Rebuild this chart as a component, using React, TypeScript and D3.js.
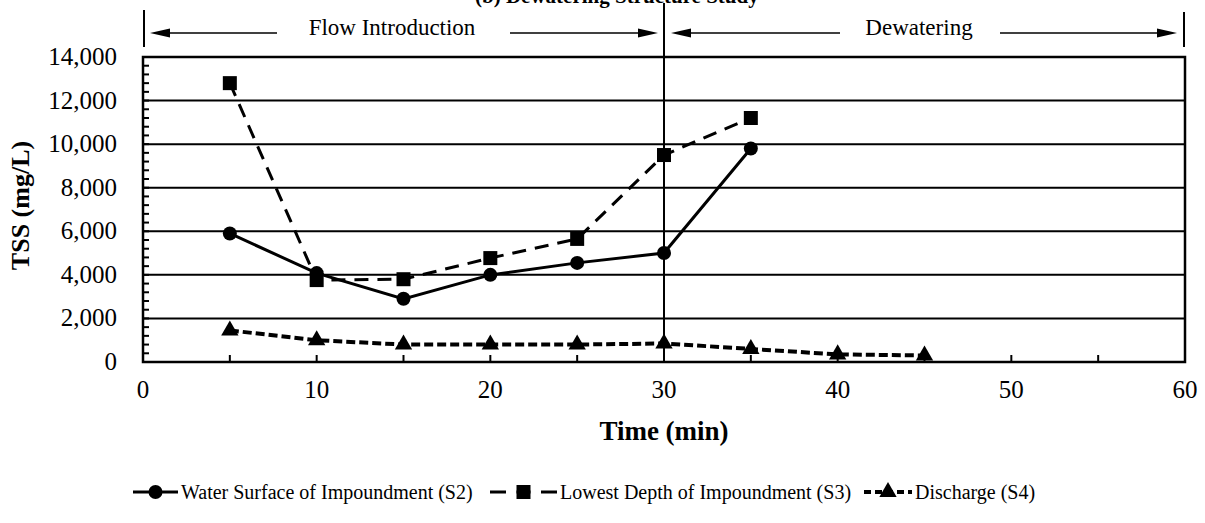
import React from 'react';
import * as d3 from 'd3';

const times = [5, 10, 15, 20, 25, 30, 35, 40, 45];
const s2Values = [5900, 4080, 2900, 4000, 4550, 5000, 9800];
const s3Values = [12800, 3760, 3800, 4770, 5650, 9500, 11200];
const s4Values = [1450, 1000, 800, 800, 800, 850, 600, 350, 300];
const yTickValues = [0, 2000, 4000, 6000, 8000, 10000, 12000, 14000];
const xTickValues = [0, 10, 20, 30, 40, 50, 60];
const seriesNames = [
  'Water Surface of Impoundment (S2)',
  'Lowest Depth of Impoundment (S3)',
  'Discharge (S4)',
];
const phaseLabels = ['Flow Introduction', 'Dewatering'];
const phaseBounds = [0, 30, 60];
const titleText = '(b) Dewatering Structure Study';
const xTitle = 'Time (min)';
const yTitle = 'TSS (mg/L)';

const W = 1205;
const H = 523;
const M = { left: 143, right: 1185, top: 57, bottom: 362 };
const FONT = "'Liberation Serif', 'Times New Roman', serif";

function Marker({ kind, x, y }: { kind: string; x: number; y: number }) {
  if (kind === 'circle') return <circle cx={x} cy={y} r={7} fill="#000" />;
  if (kind === 'square') return <rect x={x - 7} y={y - 7} width={14} height={14} fill="#000" />;
  const p = d3.symbol().type(d3.symbolTriangle).size(130)();
  return <path d={p || ''} transform={`translate(${x},${y})`} fill="#000" />;
}

export default function App() {
  const x = d3.scaleLinear().domain([0, 60]).range([M.left, M.right]);
  const y = d3.scaleLinear().domain([0, 14000]).range([M.bottom, M.top]);
  const line = d3
    .line<[number, number]>()
    .x((d) => x(d[0]))
    .y((d) => y(d[1]));

  const series = [
    { vals: s2Values, kind: 'circle', dash: undefined as string | undefined, sw: 3 },
    { vals: s3Values, kind: 'square', dash: '14,9', sw: 3 },
    { vals: s4Values, kind: 'triangle', dash: '9,4', sw: 4 },
  ];

  const yMinor = d3.range(0, 14001, 400);
  const xMinor = d3.range(5, 60, 5);

  const arrowY = 33;
  const head = (tipX: number, dir: number) =>
    `M${tipX},${arrowY} L${tipX - dir * 20},${arrowY - 4.5} L${tipX - dir * 20},${arrowY + 4.5} Z`;

  const phaseArrows = [
    { label: phaseLabels[0], lTip: x(phaseBounds[0]) + 7, lTail: 277, rTail: 510, rTip: x(phaseBounds[1]) - 6, cx: 392 },
    { label: phaseLabels[1], lTip: x(phaseBounds[1]) + 7, lTail: 840, rTail: 1000, rTip: x(phaseBounds[2]) - 8, cx: 919 },
  ];

  const legendItems = [
    { lx: 133, tx: 181 },
    { lx: 490, tx: 560 },
    { lx: 864, tx: 915 },
  ];

  return (
    <svg
      width={W}
      height={H}
      style={{ position: 'absolute', left: 0, top: 0, background: '#fff' }}
      fontFamily={FONT}
    >
      <rect width={W} height={H} fill="#fff" />
      {/* title, cut off at the top edge as in the reference */}
      <text x={475} y={3} fontSize={21} fontWeight="bold">
        {titleText}
      </text>

      {/* gridlines */}
      {yTickValues.slice(1, -1).map((v) => (
        <line key={v} x1={M.left} x2={M.right} y1={y(v)} y2={y(v)} stroke="#000" strokeWidth={2} />
      ))}

      {/* plot frame */}
      <rect
        x={M.left}
        y={M.top}
        width={M.right - M.left}
        height={M.bottom - M.top}
        fill="none"
        stroke="#000"
        strokeWidth={2.5}
      />

      {/* y minor ticks */}
      {yMinor.map((v) => (
        <line key={v} x1={M.left} x2={M.left + 6} y1={y(v)} y2={y(v)} stroke="#000" strokeWidth={2} />
      ))}
      {/* x ticks */}
      {xMinor.map((v) => (
        <line key={v} x1={x(v)} x2={x(v)} y1={M.bottom} y2={M.bottom - 7} stroke="#000" strokeWidth={2} />
      ))}

      {/* phase divider */}
      <line x1={x(30)} x2={x(30)} y1={3} y2={M.bottom} stroke="#000" strokeWidth={2} />
      <line x1={x(0) + 1} x2={x(0) + 1} y1={10} y2={47} stroke="#000" strokeWidth={2} />
      <line x1={x(60) - 1} x2={x(60) - 1} y1={12} y2={47} stroke="#000" strokeWidth={2} />

      {phaseArrows.map((a) => (
        <g key={a.label}>
          <line x1={a.lTip + 15} x2={a.lTail} y1={arrowY} y2={arrowY} stroke="#000" strokeWidth={1.5} />
          <path d={head(a.lTip, -1)} fill="#000" />
          <line x1={a.rTail} x2={a.rTip - 15} y1={arrowY} y2={arrowY} stroke="#000" strokeWidth={1.5} />
          <path d={head(a.rTip, 1)} fill="#000" />
          <text x={a.cx} y={arrowY + 2} fontSize={23} textAnchor="middle">
            {a.label}
          </text>
        </g>
      ))}

      {/* series */}
      {series.map((s, i) => {
        const pts = s.vals.map((v, j) => [times[j], v] as [number, number]);
        return (
          <g key={i}>
            <path d={line(pts) || ''} fill="none" stroke="#000" strokeWidth={s.sw} strokeDasharray={s.dash} />
            {pts.map((p, j) => (
              <Marker key={j} kind={s.kind} x={x(p[0])} y={y(p[1])} />
            ))}
          </g>
        );
      })}

      {/* y tick labels */}
      {yTickValues.map((v) => (
        <text key={v} x={M.left - 26} y={y(v) + 8} fontSize={25} textAnchor="end">
          {d3.format(',')(v)}
        </text>
      ))}
      {/* x tick labels */}
      {xTickValues.map((v) => (
        <text key={v} x={x(v)} y={M.bottom + 36} fontSize={25} textAnchor="middle">
          {v}
        </text>
      ))}

      <text x={(M.left + M.right) / 2} y={M.bottom + 78} fontSize={27} fontWeight="bold" textAnchor="middle">
        {xTitle}
      </text>
      <text
        transform={`translate(29,${(M.top + M.bottom) / 2 - 4}) rotate(-90)`}
        fontSize={26}
        fontWeight="bold"
        textAnchor="middle"
      >
        {yTitle}
      </text>

      {/* legend */}
      {legendItems.map((it, i) => {
        const s = series[i];
        const len = it.tx - it.lx - 3;
        const ly = 492;
        const sqGap = (len - 32 - 14) / 2;
        const dash =
          s.kind === 'square'
            ? `16,${sqGap},14,${sqGap},16`
            : s.kind === 'triangle'
            ? '7,4'
            : undefined;
        return (
          <g key={i}>
            <line
              x1={it.lx}
              x2={it.lx + len}
              y1={ly}
              y2={ly}
              stroke="#000"
              strokeWidth={s.sw}
              strokeDasharray={dash}
            />
            <Marker kind={s.kind} x={it.lx + len / 2} y={ly} />
            <text x={it.tx} y={ly + 7} fontSize={20}>
              {seriesNames[i]}
            </text>
          </g>
        );
      })}
    </svg>
  );
}
